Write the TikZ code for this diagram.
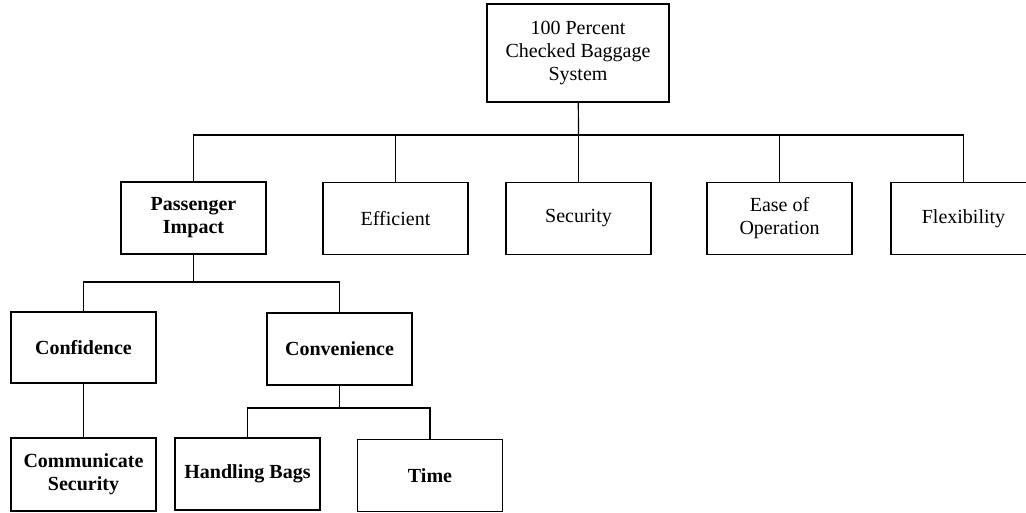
\documentclass[tikz,border=0pt]{standalone}
\usepackage{fontspec}
\setmainfont{Liberation Serif}

\tikzset{
  goalbox/.style={draw, line width=1.2pt, minimum width=145pt, minimum height=72pt,
    inner sep=0pt, align=center, font=\fontsize{20}{23}\selectfont},
  subgoal/.style={goalbox, font=\fontsize{20}{23}\selectfont\bfseries},
  link/.style={line width=1.2pt}
}

\begin{document}
\begin{tikzpicture}[x=1pt, y=1pt]
\useasboundingbox (0,0) rectangle (1026,-512);
\node[goalbox, minimum width=182pt, minimum height=98pt] (root) at (578,-53) {100 Percent\\Checked Baggage\\System};
\node[subgoal] (impact) at (193.5,-218) {Passenger\\Impact};
\node[goalbox] (efficient) at (395.5,-218.5) {Efficient};
\node[goalbox] (security) at (578.5,-218.5) {Security};
\node[goalbox] (ease) at (779.5,-218.5) {Ease of\\Operation};
\node[goalbox] (flex) at (963.5,-218.5) {Flexibility};
\node[subgoal, minimum height=71pt] (confidence) at (83.5,-347.5) {Confidence};
\node[subgoal] (convenience) at (339.5,-349) {Convenience};
\node[subgoal, minimum height=73pt] (communicate) at (83.5,-474.5) {Communicate\\Security};
\node[subgoal] (bags) at (247.5,-474) {Handling Bags};
\node[subgoal] (time) at (430,-475.5) {Time};
\coordinate (bus) at (578.5,-135);
\coordinate (impactbus) at (193.5,-282);
\coordinate (convbus) at (339.5,-408);
\draw[link] (root) -- (bus);
\draw[link] (bus) -| (impact);
\draw[link] (bus) -| (efficient);
\draw[link] (bus) -- (security);
\draw[link] (bus) -| (ease);
\draw[link] (bus) -| (flex);
\draw[link] (impact) -- (impactbus);
\draw[link] (impactbus) -| (confidence);
\draw[link] (impactbus) -| (convenience);
\draw[link] (confidence) -- (communicate);
\draw[link] (convenience) -- (convbus);
\draw[link] (convbus) -| (bags);
\draw[link] (convbus) -| (time);
\end{tikzpicture}
\end{document}
